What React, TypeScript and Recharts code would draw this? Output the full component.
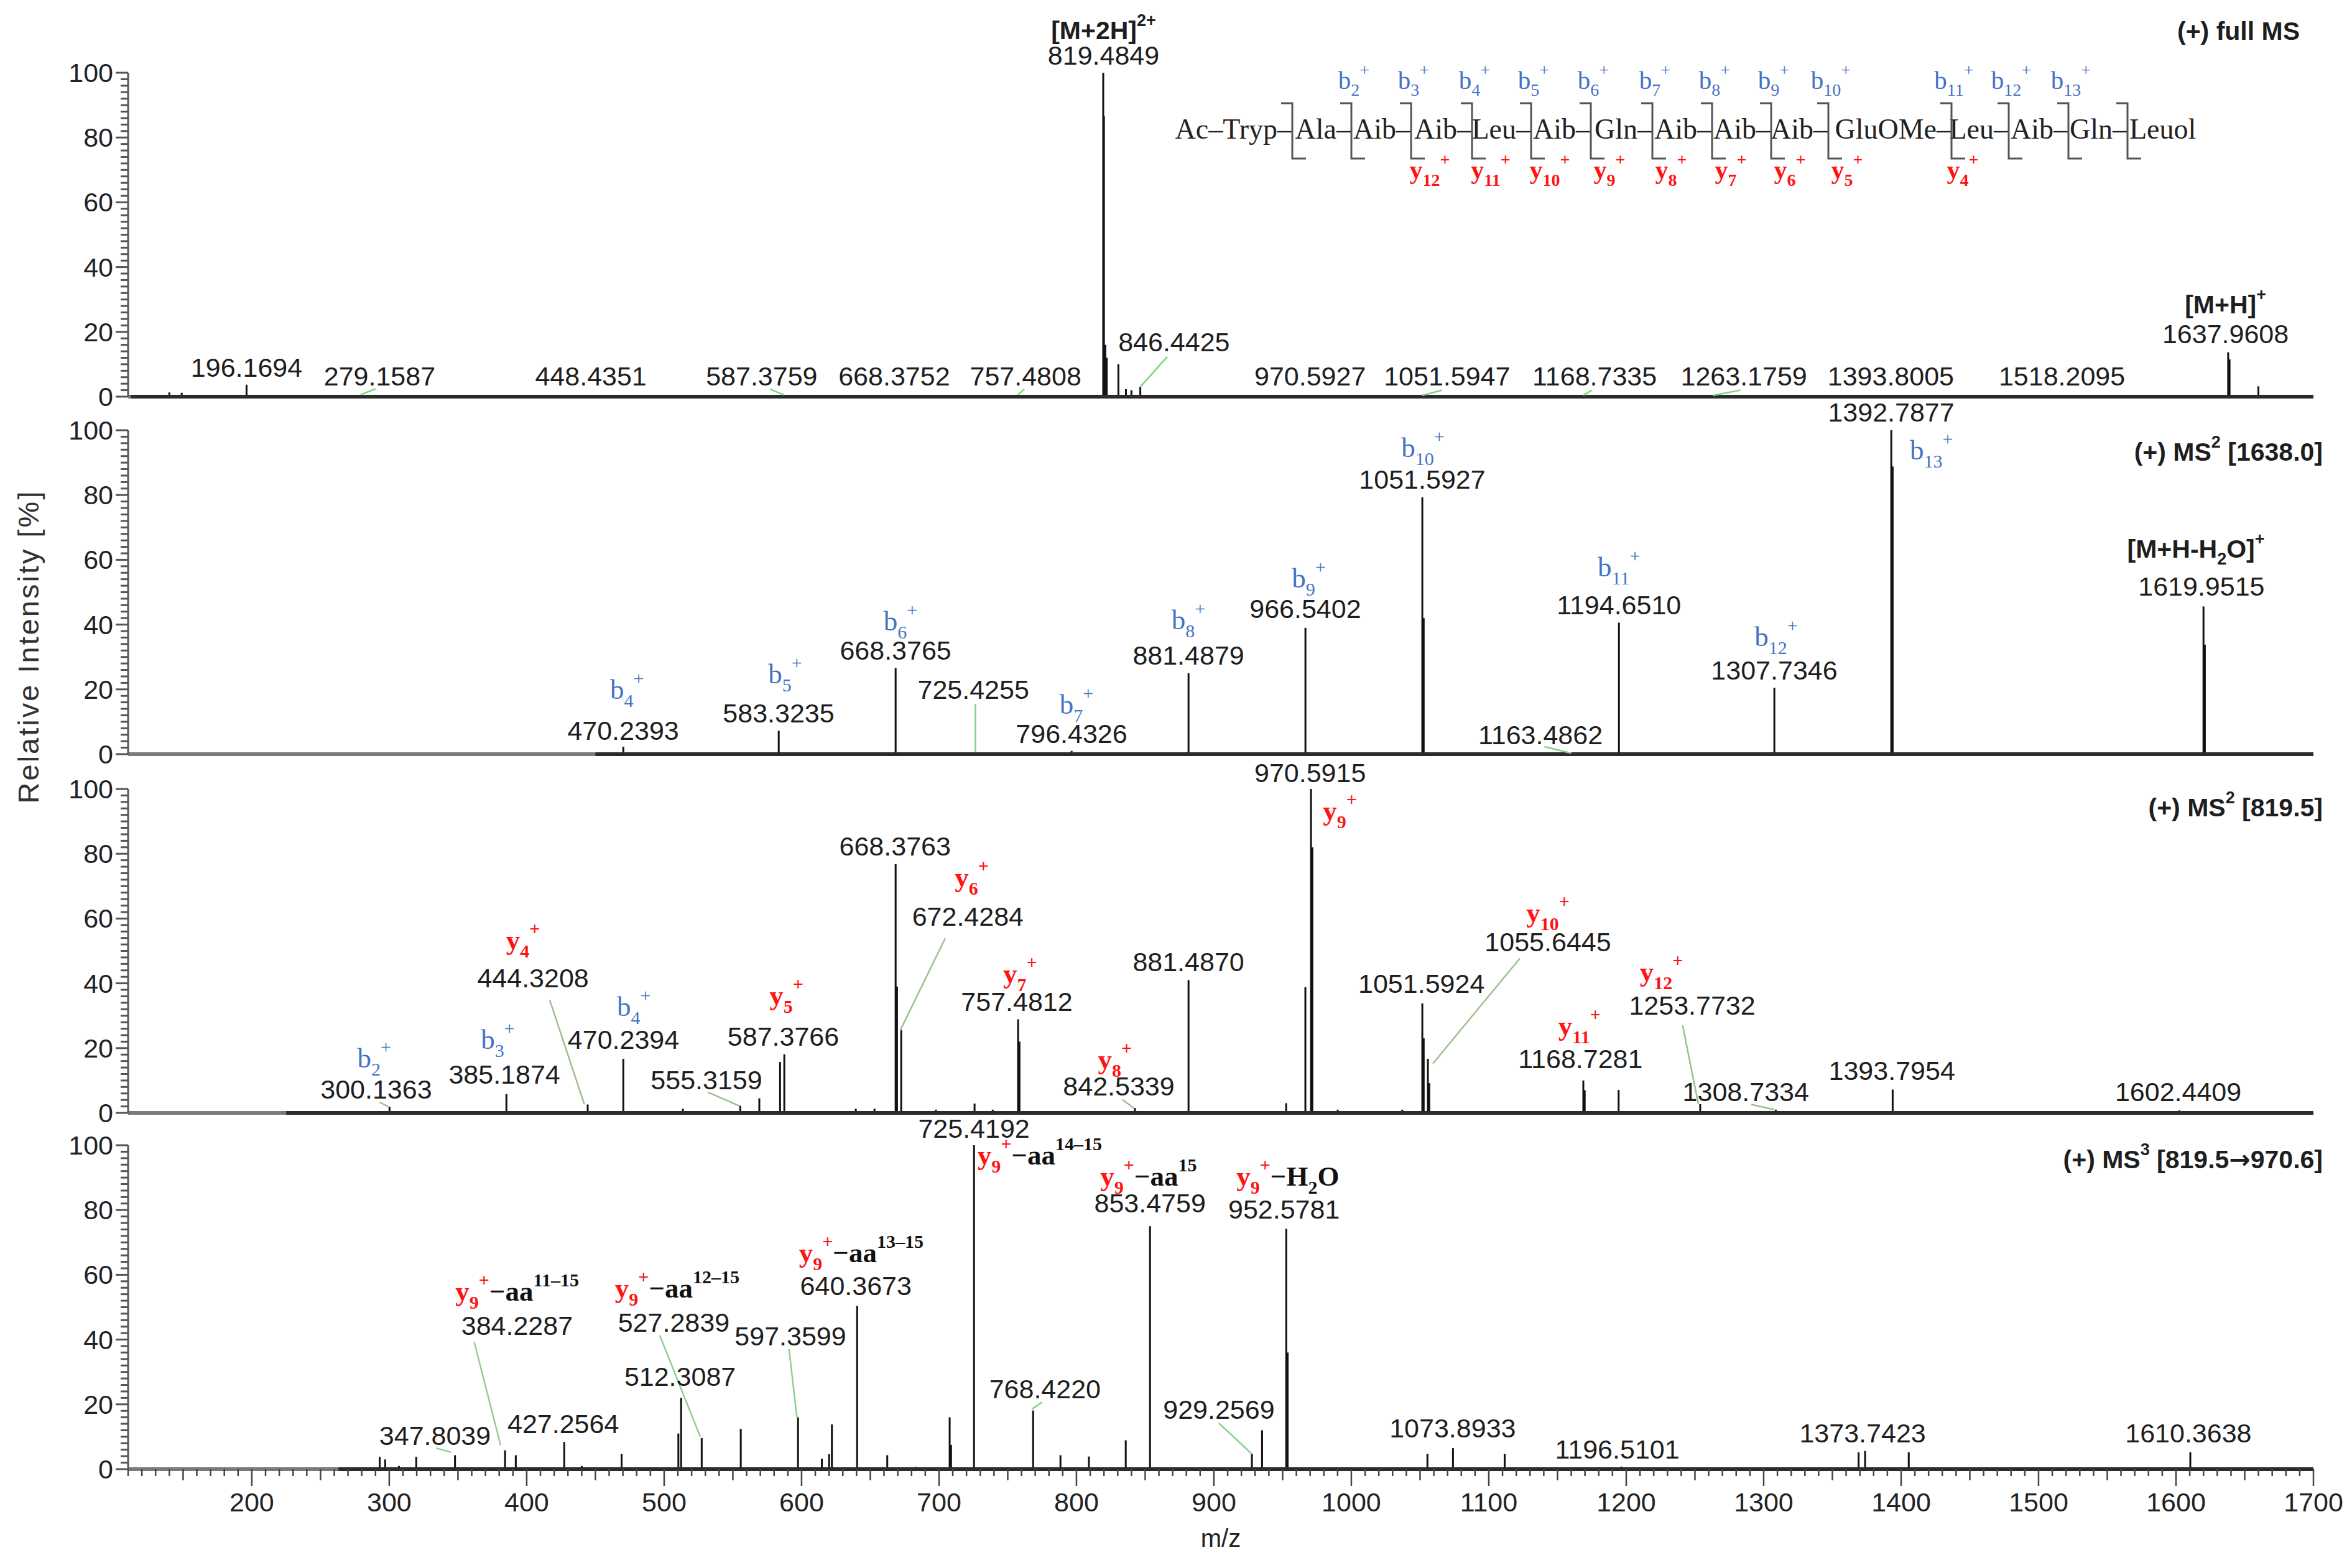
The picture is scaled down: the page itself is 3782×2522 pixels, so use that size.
import React from 'react';
import { ComposedChart, Bar, XAxis, YAxis, ReferenceLine, ReferenceDot } from 'recharts';

const SANS = '"Liberation Sans", Arial, Helvetica, sans-serif';
const SERIF = '"Liberation Serif", "Times New Roman", Times, serif';
const ARROW_FONT = '"DejaVu Sans", "Liberation Sans", sans-serif';
const BLUE = '#4472C4';
const RED = '#FF1414';

type Peak = [number, number];
type Lab = { t: string; x: number; y: number; lead?: [number, number, number, number] };
type Ion = { s: string; n: string; x: number; y: number; tail?: string; sup?: string };
type Seg = { t: string; k?: 'sub' | 'sup'; c?: string; w?: string; f?: string };
type Species = { segs: Seg[]; x: number; y: number };

// ---------- axis ticks ----------
const X_DOMAIN: [number, number] = [110, 1700];
const xMajorTicks = [200, 300, 400, 500, 600, 700, 800, 900, 1000, 1100, 1200, 1300, 1400, 1500, 1600, 1700];
const yMajorTicks = [0, 20, 40, 60, 80, 100];
const xTicks: number[] = [];
for (let v = 110; v <= 1700; v += 10) xTicks.push(v);
const yTicks: number[] = [];
for (let v = 0; v <= 100; v += 2) yTicks.push(v);

// ---------- panel 1 : (+) full MS ----------
const ms1Peaks: Peak[] = [
  [140, 1.3], [149, 1.2], [196.17, 3.7], [279.16, 0.6], [448.44, 0.3], [587.38, 0.5], [668.38, 0.3],
  [757.48, 0.6], [819.48, 100], [819.99, 86.7], [821.0, 16], [822.0, 12], [830.5, 10], [836.0, 2.3],
  [840.0, 2.0], [846.44, 3.0], [970.59, 0.3], [1051.59, 0.4], [1168.73, 0.4], [1263.18, 0.4],
  [1393.8, 0.3], [1518.21, 0.3], [1637.96, 13.7], [1638.96, 11.5], [1659.94, 3.2],
];
const ms1Labels: Lab[] = [
  { t: '196.1694', x: 196.2, y: 6.2 },
  { t: '279.1587', x: 293, y: 3.4, lead: [279.2, 0.6, 290, 2.4] },
  { t: '448.4351', x: 446.7, y: 3.4 },
  { t: '587.3759', x: 571, y: 3.4, lead: [587.4, 0.5, 577, 2.3] },
  { t: '668.3752', x: 667.4, y: 3.4 },
  { t: '757.4808', x: 763, y: 3.4, lead: [757.5, 0.6, 762, 2.3] },
  { t: '819.4849', x: 819.7, y: 102.5 },
  { t: '846.4425', x: 871, y: 14, lead: [846.4, 3, 866, 12.3] },
  { t: '970.5927', x: 970, y: 3.4 },
  { t: '1051.5947', x: 1069.6, y: 3.4, lead: [1051.6, 0.4, 1066, 2] },
  { t: '1168.7335', x: 1177, y: 3.4, lead: [1168.7, 0.4, 1175, 2] },
  { t: '1263.1759', x: 1285.6, y: 3.4, lead: [1263.2, 0.4, 1283, 2] },
  { t: '1393.8005', x: 1392.5, y: 3.4 },
  { t: '1518.2095', x: 1517, y: 3.4 },
  { t: '1637.9608', x: 1636, y: 16.5 },
];
const ms1Ions: Ion[] = [];
const ms1Species: Species[] = [
  { segs: [{ t: '[M+2H]' }, { t: '2+', k: 'sup' }], x: 819.7, y: 110.4 },
  { segs: [{ t: '[M+H]' }, { t: '+', k: 'sup' }], x: 1636, y: 25.8 },
];

// ---------- panel 2 : (+) MS2 [1638.0] ----------
const ms2aPeaks: Peak[] = [
  [470.24, 2.3], [520, 0.4], [583.32, 7.2], [640, 0.5], [668.38, 26.6], [725.43, 0.6], [796.43, 1.0],
  [881.49, 25], [966.54, 39], [1051.59, 79.3], [1052.59, 42], [1100, 0.4], [1163.49, 0.5],
  [1194.65, 40.6], [1307.73, 20.5], [1392.79, 100], [1393.79, 88.8], [1619.95, 45.6], [1620.95, 33.8],
];
const ms2aLabels: Lab[] = [
  { t: '470.2393', x: 470.2, y: 4.4 },
  { t: '583.3235', x: 583.3, y: 9.8 },
  { t: '668.3765', x: 668.4, y: 29.2 },
  { t: '725.4255', x: 725, y: 17, lead: [726.5, 0.6, 726.5, 15.5] },
  { t: '796.4326', x: 796.4, y: 3.4 },
  { t: '881.4879', x: 881.5, y: 27.6 },
  { t: '966.5402', x: 966.5, y: 42 },
  { t: '1051.5927', x: 1051.6, y: 82 },
  { t: '1163.4862', x: 1137.6, y: 3, lead: [1160, 0.3, 1140.5, 2.3] },
  { t: '1194.6510', x: 1194.7, y: 43.2 },
  { t: '1307.7346', x: 1307.7, y: 23 },
  { t: '1392.7877', x: 1392.8, y: 102.6 },
  { t: '1619.9515', x: 1618.5, y: 49 },
];
const ms2aIons: Ion[] = [
  { s: 'b', n: '4', x: 473, y: 17 },
  { s: 'b', n: '5', x: 588, y: 21.9 },
  { s: 'b', n: '6', x: 672, y: 38.2 },
  { s: 'b', n: '7', x: 800, y: 12.5 },
  { s: 'b', n: '8', x: 881.5, y: 38.6 },
  { s: 'b', n: '9', x: 969, y: 51.5 },
  { s: 'b', n: '10', x: 1052, y: 91.7 },
  { s: 'b', n: '11', x: 1194.7, y: 54.9 },
  { s: 'b', n: '12', x: 1309, y: 33.4 },
  { s: 'b', n: '13', x: 1422, y: 91 },
];
const ms2aSpecies: Species[] = [
  { segs: [{ t: '[M+H-H' }, { t: '2', k: 'sub' }, { t: 'O]' }, { t: '+', k: 'sup' }], x: 1614.5, y: 60.6 },
];

// ---------- panel 3 : (+) MS2 [819.5] ----------
const ms2bPeaks: Peak[] = [
  [300.14, 1.9], [385.19, 5.8], [444.32, 2.6], [470.24, 16.7], [513.6, 1.3], [555.32, 2.2], [569.2, 4.5],
  [584.3, 15.7], [587.38, 18.1], [639.4, 1.3], [653, 1.3], [668.38, 76.8], [669.38, 39], [672.43, 25.6],
  [697.7, 1], [725.8, 2.9], [739, 1], [757.48, 28.9], [758.48, 22], [842.53, 1.5], [881.49, 41],
  [952.5, 3], [966.5, 38.8], [970.59, 100], [971.59, 82], [990, 1], [1037, 1], [1051.59, 33.8],
  [1052.59, 23], [1055.64, 16.7], [1056.64, 9.2], [1168.73, 10], [1169.73, 7], [1194.4, 7.1],
  [1253.77, 2.7], [1308.73, 1], [1393.8, 7.2], [1602.44, 0.8],
];
const ms2bLabels: Lab[] = [
  { t: '300.1363', x: 290.5, y: 4.5, lead: [299.5, 1.9, 293, 3.3] },
  { t: '385.1874', x: 383.8, y: 9 },
  { t: '444.3208', x: 404.6, y: 38.7, lead: [416.7, 34.9, 442, 2.6] },
  { t: '470.2394', x: 470.4, y: 19.7 },
  { t: '555.3159', x: 530.8, y: 7.2, lead: [531.8, 6.4, 554.5, 2.2] },
  { t: '587.3766', x: 586.7, y: 20.8 },
  { t: '668.3763', x: 668, y: 79.4 },
  { t: '672.4284', x: 721, y: 57.7, lead: [704.5, 53.9, 671.7, 25.4] },
  { t: '757.4812', x: 756.6, y: 31.5 },
  { t: '842.5339', x: 830.8, y: 5.3, lead: [833.5, 4.1, 841.7, 1.5] },
  { t: '881.4870', x: 881.5, y: 43.7 },
  { t: '970.5915', x: 970, y: 102.2 },
  { t: '1051.5924', x: 1051, y: 37 },
  { t: '1055.6445', x: 1143, y: 49.9, lead: [1122.6, 47.7, 1059.3, 15.2] },
  { t: '1168.7281', x: 1166.7, y: 13.9 },
  { t: '1253.7732', x: 1248, y: 30.3, lead: [1241, 27.1, 1252.5, 2.7] },
  { t: '1308.7334', x: 1287, y: 3.7, lead: [1291, 2.6, 1307.7, 1] },
  { t: '1393.7954', x: 1393.3, y: 10.2 },
  { t: '1602.4409', x: 1601.6, y: 3.7 },
];
const ms2bIons: Ion[] = [
  { s: 'b', n: '2', x: 289, y: 14 },
  { s: 'b', n: '3', x: 379, y: 19.7 },
  { s: 'y', n: '4', x: 397.4, y: 50.5 },
  { s: 'b', n: '4', x: 478, y: 30 },
  { s: 'y', n: '5', x: 589, y: 33.4 },
  { s: 'y', n: '6', x: 723.8, y: 69.9 },
  { s: 'y', n: '7', x: 759, y: 40.2 },
  { s: 'y', n: '8', x: 828, y: 13.7 },
  { s: 'y', n: '9', x: 991.7, y: 90.4 },
  { s: 'y', n: '10', x: 1143, y: 59 },
  { s: 'y', n: '11', x: 1166, y: 23.9 },
  { s: 'y', n: '12', x: 1225.6, y: 40.6 },
];
const ms2bSpecies: Species[] = [];

// ---------- panel 4 : (+) MS3 [819.5->970.6] ----------
const ms3Peaks: Peak[] = [
  [293, 3.8], [297, 3], [307, 1], [319.6, 3.8], [347.8, 4.3], [384.23, 5.8], [392, 4.3], [427.26, 8.4],
  [440, 1], [469, 4.7], [510.3, 11], [512.31, 22], [527.28, 9.6], [555.7, 12.4], [597.36, 16],
  [614.7, 3.2], [620, 4.6], [622, 13.8], [640.37, 50.4], [662.3, 4.3], [683, 0.7], [707.7, 16],
  [708.7, 7.5], [725.42, 100], [768.42, 18.1], [788.3, 4.3], [809, 3.9], [835.8, 8.9], [853.48, 75],
  [927.6, 4.7], [935, 12], [952.58, 74.2], [953.58, 36], [1055.3, 4.7], [1073.89, 6.5], [1111.5, 4.7],
  [1196.51, 0.8], [1369, 5.2], [1373.74, 5.6], [1405.5, 5.2], [1610.36, 5.2],
];
const ms3Labels: Lab[] = [
  { t: '347.8039', x: 333.3, y: 7.4, lead: [334, 6.5, 345, 5.2] },
  { t: '384.2287', x: 393, y: 41.5, lead: [361.8, 39.3, 381, 7.4] },
  { t: '427.2564', x: 426.6, y: 11.1 },
  { t: '512.3087', x: 511.6, y: 25.7 },
  { t: '527.2839', x: 507, y: 42.4, lead: [496.8, 41.3, 526.3, 10] },
  { t: '597.3599', x: 591.9, y: 38.1, lead: [590.9, 37, 596.6, 16] },
  { t: '640.3673', x: 639.5, y: 53.8 },
  { t: '725.4192', x: 725.4, y: 102.3 },
  { t: '768.4220', x: 777.1, y: 21.8, lead: [767.5, 18.5, 775, 20.7] },
  { t: '853.4759', x: 853.5, y: 79.3 },
  { t: '929.2569', x: 903.6, y: 15.6, lead: [903.6, 14.2, 927.6, 4.7] },
  { t: '952.5781', x: 951, y: 77.4 },
  { t: '1073.8933', x: 1073.7, y: 9.7 },
  { t: '1196.5101', x: 1193.5, y: 3.3 },
  { t: '1373.7423', x: 1372, y: 8.3 },
  { t: '1610.3638', x: 1609, y: 8.3 },
];
const ms3Ions: Ion[] = [
  { s: 'y', n: '9', x: 393.1, y: 52, tail: 'aa', sup: '11–15' },
  { s: 'y', n: '9', x: 509.5, y: 53, tail: 'aa', sup: '12–15' },
  { s: 'y', n: '9', x: 643.4, y: 64, tail: 'aa', sup: '13–15' },
  { s: 'y', n: '9', x: 773.3, y: 94, tail: 'aa', sup: '14–15' },
  { s: 'y', n: '9', x: 852.5, y: 87.5, tail: 'aa', sup: '15' },
  { s: 'y', n: '9', x: 953.8, y: 87.5, tail: 'H2O' },
];
const ms3Species: Species[] = [];

// ---------- peptide sequence ----------
const seqResidues = ['Ac–Tryp', 'Ala', 'Aib', 'Aib', 'Leu', 'Aib', 'Gln', 'Aib', 'Aib', 'Aib', 'GluOMe', 'Leu', 'Aib', 'Gln', 'Leuol'];
const seqBIons = ['2', '3', '4', '5', '6', '7', '8', '9', '10', '11', '12', '13'];
const seqYIons = ['12', '11', '10', '9', '8', '7', '6', '5', '4'];

// ---------- layout ----------
const PAGE_W = 3782;
const PAGE_H = 2522;
const PLOT_LEFT = 206;
const PLOT_RIGHT = 3720;
const PLOT_H = 521;
const MT = 120;
const MB = 34;
const Y_W = 110;
const seqCleaveX = [2078, 2173, 2269, 2367, 2462, 2558, 2657, 2753, 2848, 2940, 3138, 3230, 3326, 3421];

function Rich({ x, y, segs, size, small, font, weight = 'normal', fill = '#1a1a1a', anchor = 'middle' }: any) {
  let cur = 0;
  return (
    <text x={x} y={y} textAnchor={anchor} fontFamily={font} fontSize={size} fontWeight={weight} fill={fill}>
      {segs.map((s: Seg, i: number) => {
        const target = s.k === 'sub' ? Math.round(size * 0.28) : s.k === 'sup' ? -Math.round(size * 0.5) : 0;
        const dy = target - cur;
        cur = target;
        return (
          <tspan
            key={i}
            dy={dy}
            fontSize={s.k ? small : size}
            fill={s.c || fill}
            fontWeight={s.w || weight}
            fontFamily={s.f || font}
          >
            {s.t}
          </tspan>
        );
      })}
    </text>
  );
}

function ionSegs(ion: Ion): Seg[] {
  const col = ion.s === 'b' ? BLUE : RED;
  const segs: Seg[] = [{ t: ion.s, c: col }, { t: ion.n, k: 'sub', c: col }, { t: '+', k: 'sup', c: col }];
  if (ion.tail === 'aa') segs.push({ t: '−aa', c: '#111' }, { t: ion.sup || '', k: 'sup', c: '#111' });
  if (ion.tail === 'H2O') segs.push({ t: '−H', c: '#111' }, { t: '2', k: 'sub', c: '#111' }, { t: 'O', c: '#111' });
  return segs;
}

const YTick = (p: any) => {
  const { x, y, payload } = p;
  const v = payload.value;
  const major = v % 20 === 0;
  const len = major ? 20 : 12;
  return (
    <g>
      <line x1={x - len} x2={x} y1={y} y2={y} stroke="#555" strokeWidth={3} />
      {major && (
        <text x={x - 24} y={y + 15} textAnchor="end" fontFamily={SANS} fontSize={43} fill="#222">
          {v}
        </text>
      )}
    </g>
  );
};

const XTick = (p: any) => {
  const { x, y, payload } = p;
  const v = payload.value;
  const len = v % 100 === 0 ? 27 : v % 50 === 0 ? 18 : 11;
  return (
    <g>
      <line x1={x} x2={x} y1={y} y2={y + len} stroke="#444" strokeWidth={2.5} />
      {v % 100 === 0 && v >= 200 && (
        <text x={x} y={y + 68} textAnchor="middle" fontFamily={SANS} fontSize={43} fill="#222">
          {v}
        </text>
      )}
    </g>
  );
};

const Stick = (p: any) => {
  const { x, y, width, height } = p;
  if (!isFinite(x) || !isFinite(y) || !isFinite(height)) return null;
  const cx = x + (width || 0) / 2;
  return <rect x={cx - 1.5} y={y} width={3} height={Math.max(height, 0)} fill="#111" />;
};

function Panel({ top, peaks, labels, ions, species, noiseFrom, leadColor, showX }: any) {
  const data = peaks.map(([mz, i]: Peak) => ({ mz, i }));
  const xH = showX ? 140 : 0;
  const mb = showX ? 6 : MB;
  const H = MT + PLOT_H + xH + mb;
  return (
    <div style={{ position: 'absolute', left: 0, top: top - MT }}>
      <ComposedChart
        width={PAGE_W}
        height={H}
        data={data}
        margin={{ top: MT, right: PAGE_W - PLOT_RIGHT, bottom: mb, left: PLOT_LEFT - Y_W }}
      >
        <XAxis
          dataKey="mz"
          type="number"
          domain={X_DOMAIN}
          ticks={xTicks}
          interval={0}
          hide={!showX}
          height={showX ? xH : 0}
          tick={<XTick />}
          tickLine={false}
          axisLine={false}
          tickSize={0}
          tickMargin={0}
        />
        <YAxis
          type="number"
          domain={[0, 100]}
          ticks={yTicks}
          interval={0}
          width={Y_W}
          tick={<YTick />}
          tickLine={false}
          tickSize={0}
          tickMargin={0}
          axisLine={{ stroke: '#555', strokeWidth: 3 }}
        />
        <ReferenceLine y={0} stroke="#7a7a7a" strokeWidth={6} ifOverflow="visible" />
        <ReferenceLine
          segment={[{ x: noiseFrom, y: 0 }, { x: 1700, y: 0 }]}
          stroke="#2b2b2b"
          strokeWidth={6}
          ifOverflow="visible"
        />
        <Bar dataKey="i" fill="#111" isAnimationActive={false} shape={(sp: any) => <Stick {...sp} />} />
        {labels
          .filter((l: Lab) => l.lead)
          .map((l: Lab, i: number) => (
            <ReferenceLine
              key={'ld' + i}
              segment={[{ x: l.lead![0], y: l.lead![1] }, { x: l.lead![2], y: l.lead![3] }]}
              stroke={leadColor}
              strokeWidth={2.5}
              ifOverflow="visible"
            />
          ))}
        {labels.map((l: Lab, i: number) => (
          <ReferenceDot
            key={'lb' + i}
            x={l.x}
            y={l.y}
            r={0}
            ifOverflow="visible"
            shape={(dp: any) => (
              <text x={dp.cx} y={dp.cy} textAnchor="middle" fontFamily={SANS} fontSize={43} fill="#1e1e1e">
                {l.t}
              </text>
            )}
          />
        ))}
        {ions.map((ion: Ion, i: number) => (
          <ReferenceDot
            key={'io' + i}
            x={ion.x}
            y={ion.y}
            r={0}
            ifOverflow="visible"
            shape={(dp: any) => (
              <Rich
                x={dp.cx}
                y={dp.cy}
                segs={ionSegs(ion)}
                size={45}
                small={30}
                font={SERIF}
                weight={ion.s === 'y' ? 'bold' : 'normal'}
              />
            )}
          />
        ))}
        {species.map((sp: Species, i: number) => (
          <ReferenceDot
            key={'sp' + i}
            x={sp.x}
            y={sp.y}
            r={0}
            ifOverflow="visible"
            shape={(dp: any) => (
              <Rich x={dp.cx} y={dp.cy} segs={sp.segs} size={41} small={27} font={SANS} weight="bold" fill="#1e1e1e" />
            )}
          />
        ))}
      </ComposedChart>
    </div>
  );
}

function Overlay() {
  const titleProps = { size: 41, small: 27, font: SANS, weight: 'bold', fill: '#1e1e1e', anchor: 'end' };
  return (
    <svg
      width={PAGE_W}
      height={PAGE_H}
      style={{ position: 'absolute', left: 0, top: 0, pointerEvents: 'none' }}
    >
      <text
        x={0}
        y={0}
        transform="translate(62 1040) rotate(-90)"
        textAnchor="middle"
        fontFamily={SANS}
        fontSize={47}
        letterSpacing={3}
        fill="#333"
      >
        Relative Intensity [%]
      </text>
      <text x={1963} y={2488} textAnchor="middle" fontFamily={SANS} fontSize={40} fill="#222">
        m/z
      </text>
      <Rich x={3698} y={64} segs={[{ t: '(+) full MS' }]} {...titleProps} />
      <Rich x={3735} y={741} segs={[{ t: '(+) MS' }, { t: '2', k: 'sup' }, { t: ' [1638.0]' }]} {...titleProps} />
      <Rich x={3735} y={1313} segs={[{ t: '(+) MS' }, { t: '2', k: 'sup' }, { t: ' [819.5]' }]} {...titleProps} />
      <Rich
        x={3735}
        y={1879}
        segs={[{ t: '(+) MS' }, { t: '3', k: 'sup' }, { t: ' [819.5' }, { t: '→', f: ARROW_FONT }, { t: '970.6]' }]}
        {...titleProps}
      />
      {/* peptide sequence */}
      <g fontFamily={SERIF} fontSize={46} fill="#222">
        {seqResidues.map((r, i) =>
          i < seqCleaveX.length ? (
            <text key={'r' + i} x={seqCleaveX[i] - 1} y={223} textAnchor="end">
              {r + '–'}
            </text>
          ) : (
            <text key={'r' + i} x={seqCleaveX[i - 1] + 3} y={223} textAnchor="start">
              {r}
            </text>
          )
        )}
      </g>
      {seqCleaveX.map((cx, i) => (
        <path
          key={'br' + i}
          d={`M ${cx - 18} 166 H ${cx} V 255 H ${cx + 22}`}
          fill="none"
          stroke="#555"
          strokeWidth={3}
        />
      ))}
      {seqBIons.map((n) => (
        <Rich
          key={'sb' + n}
          x={seqCleaveX[Number(n) - 1] + 4}
          y={143}
          segs={ionSegs({ s: 'b', n, x: 0, y: 0 })}
          size={41}
          small={28}
          font={SERIF}
        />
      ))}
      {seqYIons.map((n) => (
        <Rich
          key={'sy' + n}
          x={seqCleaveX[14 - Number(n)] + (n === '4' ? 18 : 30)}
          y={287}
          segs={ionSegs({ s: 'y', n, x: 0, y: 0 })}
          size={42}
          small={28}
          font={SERIF}
          weight="bold"
        />
      ))}
    </svg>
  );
}

export default function App() {
  return (
    <div style={{ position: 'absolute', left: 0, top: 0, width: PAGE_W, height: PAGE_H, background: '#fff', overflow: 'hidden' }}>
      <Panel top={117} peaks={ms1Peaks} labels={ms1Labels} ions={ms1Ions} species={ms1Species} noiseFrom={112} leadColor="#7fd47f" showX={false} />
      <Panel top={692} peaks={ms2aPeaks} labels={ms2aLabels} ions={ms2aIons} species={ms2aSpecies} noiseFrom={450} leadColor="#7fd47f" showX={false} />
      <Panel top={1269} peaks={ms2bPeaks} labels={ms2bLabels} ions={ms2bIons} species={ms2bSpecies} noiseFrom={225} leadColor="#9cbf8c" showX={false} />
      <Panel top={1842} peaks={ms3Peaks} labels={ms3Labels} ions={ms3Ions} species={ms3Species} noiseFrom={263} leadColor="#8fd08f" showX={true} />
      <Overlay />
    </div>
  );
}
